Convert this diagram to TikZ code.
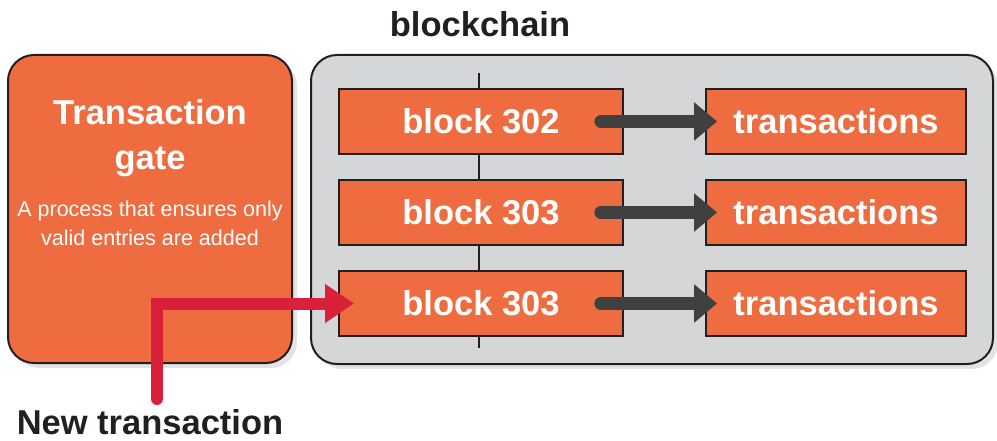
\documentclass[tikz,border=0pt]{standalone}
\usepackage{fontspec}
\setmainfont{Liberation Sans}
\usetikzlibrary{arrows.meta,shadows}
\definecolor{gateorange}{HTML}{EE6C3F}
\definecolor{chaingray}{HTML}{D5D6D8}
\definecolor{newred}{HTML}{D8203B}
\definecolor{linkdark}{HTML}{404040}
\definecolor{inkblack}{HTML}{231F20}

\begin{document}
\begin{tikzpicture}[x=1pt,y=-1pt,
  panel/.style={draw=inkblack,line width=2pt,rounded corners=26pt,
    drop shadow={shadow xshift=5pt,shadow yshift=-5pt,opacity=.22}},
  bigtext/.style={font=\bfseries\fontsize{34.5}{45}\selectfont,inner sep=0pt},
  box/.style={bigtext,draw=inkblack,line width=1.8pt,fill=gateorange,text=white,minimum height=65pt},
  link/.style={linkdark,line width=13pt,line cap=round,-{Triangle[length=23pt,width=37pt]}},
  newarrow/.style={newred,line width=12pt,line cap=round,-{Triangle[length=29pt,width=37pt]}}]
\useasboundingbox (0,0) rectangle (997,441);

% gate and chain panels
\node[panel,fill=gateorange,minimum width=284pt,minimum height=308pt] (gate) at (150,209) {};
\node[panel,fill=chaingray,minimum width=682pt,minimum height=309pt] (chain) at (652,209.5) {};

\node[bigtext,text=white,align=center] (gatetitle) at (150,138) {Transaction\\gate};
\node[font=\fontsize{21.5}{29}\selectfont,text=white,align=center,inner sep=0pt] (gatetext) at (150,223)
  {A process that ensures only\\valid entries are added};
\node[bigtext,text=inkblack,anchor=base] (chaintitle) at (480,37) {blockchain};

% spine through the blocks
\coordinate (spinetop) at (479,73);
\coordinate (spinebot) at (479,348);
\draw[inkblack,line width=1.2pt] (spinetop) -- (spinebot);

\foreach \i/\y/\n in {1/121.5/302,2/212.5/303,3/303.5/303}{
  \node[box,minimum width=284pt] (block\i) at (481,\y) {block \n};
  \node[box,minimum width=260pt] (tx\i) at (836,\y) {transactions};
  \draw[link] ([xshift=-23pt]block\i.east) -- ([xshift=12pt]tx\i.west);
}

% new transaction coming in
\coordinate (newstart) at (157,399);
\draw[newarrow] (newstart) |- ([xshift=16pt]block3.west);
\node[bigtext,text=inkblack,anchor=base] (newlabel) at (150,434) {New transaction};
\end{tikzpicture}
\end{document}
